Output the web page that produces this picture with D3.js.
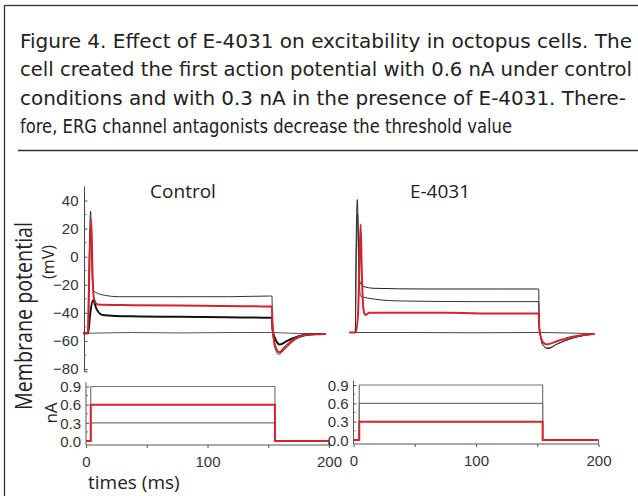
<!DOCTYPE html>
<html>
<head>
<meta charset="utf-8">
<script src="https://cdn.jsdelivr.net/npm/d3@7"></script>
<style>
  body { margin: 0; background: #fff; }
  svg { display: block; font-family: 'Open Sans', sans-serif; }
  .tick text { fill: #333; }
</style>
</head>
<body>
<div id="chart"></div>
<script>
const W = 638, H = 496
const red = '#d3242b'

const captionLines = [
  'Figure 4. Effect of E-4031 on excitability in octopus cells. The',
  'cell created the first action potential with 0.6 nA under control',
  'conditions and with 0.3 nA in the presence of E-4031. There-',
  'fore, ERG channel antagonists decrease the threshold value'
]
const captionWidths = [612, 612, 606, 492]

const panelTitles = ['Control', 'E-4031']

// voltage traces, [time ms, mV]
const ctrlRest = [[0, -54.5], [4, -54.5], [40, -54], [80, -54.3], [120, -54], [155.5, -54], [170, -54.5], [200, -55]]
const ctrl09 = [[0, -54.5], [3.8, -54.5], [4.6, -20], [6.3, 32.5], [7.2, -5], [8.5, -24], [15, -27], [30, -28.5], [80, -28.5], [120, -28.5], [155.5, -28], [156, -50], [158, -65], [161, -69.5], [166, -66], [175, -59], [185, -56], [200, -55]]
const ctrl06 = [[0, -54.5], [4.2, -54.5], [5.2, -10], [6.8, 26.5], [7.8, -10], [9, -30], [12, -34], [40, -34.5], [100, -35], [155.5, -35.5], [156, -50], [158, -63], [161.5, -68], [166, -64.5], [175, -58], [185, -55.5], [200, -55]]
const ctrl03 = [[0, -54.5], [4.2, -54.5], [6, -40], [8.3, -31], [11, -37], [16, -41.5], [40, -42.5], [100, -43], [155.5, -43.5], [156, -52], [159, -60], [162, -62.5], [168, -60], [178, -56.5], [190, -55], [200, -55]]

const e4Rest = [[0, -54], [5, -54], [50, -54], [100, -54.2], [154.4, -54], [175, -54.3], [200, -54.8]]
const e409 = [[0, -54], [4.7, -54], [5.3, 0], [6.4, 40.7], [7.4, 0], [8.5, -18], [11, -21], [20, -22.5], [60, -23], [120, -23], [154.4, -23], [155, -50], [158, -63], [162, -65.5], [170, -62], [182, -58], [200, -55]]
const e406 = [[0, -54], [4.7, -54], [5.5, 0], [6.7, 30], [7.7, -10], [9, -28], [15, -29.5], [40, -31.5], [100, -32], [154.4, -32], [155, -50], [158, -63], [162, -65], [170, -62], [182, -58], [200, -55]]
const e403 = [[0, -54], [5, -54], [7, -40], [8.2, 0], [9.1, 23], [10, -10], [11.5, -38], [13, -41.5], [16, -40], [30, -40], [80, -40], [120, -40.5], [154.4, -40.5], [155, -52], [158, -61], [161, -62.5], [170, -60], [182, -57], [200, -55]]

// current steps
const ctrlLevels = [0.3, 0.6, 0.9], ctrlRed = 0.6
const e4Levels = [0.3, 0.6, 0.9], e4Red = 0.3
const stepOn = [3.9, 4.7], stepOff = [155.5, 154.4]

const mvTicks = [40, 20, 0, -20, -40, -60, -80]
const nATicks = [0, 0.3, 0.6, 0.9]
const timeTicks = [0, 50, 100, 150, 200]
const timeLabels = [0, 100, 200]

const svg = d3.select('#chart').append('svg')
  .attr('width', W).attr('height', H)

// frame
svg.append('rect')
  .attr('x', 4.5).attr('y', 5.5).attr('width', 700).attr('height', 600)
  .attr('fill', 'none').attr('stroke', '#333').attr('stroke-width', 1.3)
svg.append('line')
  .attr('x1', 18).attr('x2', W).attr('y1', 150.5).attr('y2', 150.5)
  .attr('stroke', '#333').attr('stroke-width', 1.3)

svg.selectAll('text.caption')
  .data(captionLines)
  .enter()
  .append('text')
  .classed('caption', true)
  .attr('x', 20)
  .attr('y', (d, i) => 48 + i * 28.3)
  .attr('font-family', "'DejaVu Sans Condensed', 'Liberation Sans Narrow', 'Open Sans', sans-serif")
  .attr('font-size', 20)
  .attr('fill', '#222')
  .attr('textLength', (d, i) => captionWidths[i])
  .attr('lengthAdjust', 'spacingAndGlyphs')
  .text(d => d)

// scales
const yMv = d3.scaleLinear().domain([0, -80]).range([256.7, 369])
const panels = [
  { top: d3.scaleLinear().domain([0, 200]).range([83, 326]),
    bot: d3.scaleLinear().domain([0, 200]).range([86, 329]),
    yI: d3.scaleLinear().domain([0, 0.9]).range([441, 386.5]),
    traces: [ctrlRest, ctrl09, ctrl03, ctrl06], levels: ctrlLevels, redLevel: ctrlRed, titleX: 183 },
  { top: d3.scaleLinear().domain([0, 200]).range([349.5, 594.5]),
    bot: d3.scaleLinear().domain([0, 200]).range([353.5, 598.5]),
    yI: d3.scaleLinear().domain([0, 0.9]).range([440, 385]),
    traces: [e4Rest, e409, e406, e403], levels: e4Levels, redLevel: e4Red, titleX: 440 }
]
const traceStyle = [
  { stroke: '#555', width: 1 },
  { stroke: '#333', width: 1 },
  { stroke: '#111', width: 2 },
  { stroke: red, width: 2 }
]
traceStyle.e4 = [
  { stroke: '#444', width: 1 },
  { stroke: '#222', width: 1 },
  { stroke: '#333', width: 1 },
  { stroke: red, width: 2 }
]

// voltage axis (control only)
const mvAxis = d3.axisLeft(yMv).tickValues(mvTicks).tickSizeInner(-3).tickSizeOuter(-3).tickPadding(6)
const gMv = svg.append('g')
  .attr('transform', 'translate(84.5,0)')
  .call(mvAxis)
gMv.selectAll('.tick line').attr('stroke', '#555')
gMv.selectAll('.tick text').attr('font-size', 15)
gMv.selectAll('.minor')
  .data(d3.range(-70, 50, 20))
  .enter()
  .append('line')
  .attr('x1', 0).attr('x2', 2)
  .attr('y1', d => yMv(d)).attr('y2', d => yMv(d))
  .attr('stroke', '#777')
gMv.select('.domain').attr('stroke', '#444').attr('d', `M0,${yMv(50)}V${yMv(-82)}H3`)

panels.forEach((p, pi) => {
  svg.append('text')
    .attr('x', p.titleX).attr('y', 198)
    .attr('text-anchor', 'middle')
    .attr('font-size', 19)
    .attr('fill', '#222')
    .text(panelTitles[pi])

  const line = d3.line()
    .x(d => p.top(d[0]))
    .y(d => yMv(d[1]))
    .curve(d3.curveMonotoneX)
  const styles = pi === 0 ? traceStyle : traceStyle.e4
  svg.append('g').selectAll('path')
    .data(p.traces)
    .enter()
    .append('path')
    .attr('d', line)
    .attr('fill', 'none')
    .attr('stroke', (d, i) => styles[i].stroke)
    .attr('stroke-width', (d, i) => styles[i].width)
    .attr('stroke-linejoin', 'round')

  // current panel
  const x = p.bot, y = p.yI
  const g = svg.append('g')
  const xAxis = d3.axisBottom(x).tickValues(timeTicks).tickSize(3).tickSizeOuter(0)
    .tickFormat(d => timeLabels.includes(d) ? d : '')
  const gx = g.append('g')
    .attr('transform', `translate(0,${y(0) + 4})`)
    .call(xAxis)
  gx.select('.domain').attr('stroke', '#555').attr('d', `M${x(0)},0H${x(200)}V-3`)
  gx.selectAll('.tick line').attr('stroke', '#555')
  gx.selectAll('.tick text').attr('font-size', 15).attr('dy', '1.05em')

  const yAxis = d3.axisLeft(y).tickValues(nATicks).tickSizeInner(-3).tickSizeOuter(0).tickPadding(5)
    .tickFormat(d3.format('.1f'))
  const gy = g.append('g')
    .attr('transform', `translate(${x(0)},0)`)
    .call(yAxis)
  gy.select('.domain').attr('stroke', '#555').attr('d', `M0,${y(0.97)}V${y(0) + 4}`)
  gy.selectAll('.tick line').attr('stroke', '#555')
  gy.selectAll('.tick text').attr('font-size', 15).attr('dy', '0.35em')
  gy.selectAll('.minor')
    .data([0.15, 0.45, 0.75])
    .enter()
    .append('line')
    .attr('x1', 0).attr('x2', 2)
    .attr('y1', d => y(d)).attr('y2', d => y(d))
    .attr('stroke', '#777')

  const stepPath = lvl => `M${x(0)},${y(0)}H${x(stepOn[pi])}V${y(lvl)}H${x(stepOff[pi])}V${y(0)}H${x(200)}`
  g.selectAll('path.step')
    .data(p.levels.filter(l => l !== p.redLevel))
    .enter()
    .append('path')
    .classed('step', true)
    .attr('d', stepPath)
    .attr('fill', 'none')
    .attr('stroke', '#777')
    .attr('stroke-width', 1.2)
  g.append('path')
    .attr('d', stepPath(p.redLevel))
    .attr('fill', 'none')
    .attr('stroke', red)
    .attr('stroke-width', 2)
})

// axis titles
svg.append('text')
  .attr('transform', 'translate(32,316) rotate(-90)')
  .attr('text-anchor', 'middle')
  .attr('font-size', 23)
  .attr('fill', '#222')
  .attr('textLength', 188)
  .attr('lengthAdjust', 'spacingAndGlyphs')
  .text('Membrane potential')
svg.append('text')
  .attr('transform', 'translate(54,262) rotate(-90)')
  .attr('text-anchor', 'middle')
  .attr('font-size', 16)
  .attr('fill', '#222')
  .text('(mV)')
svg.append('text')
  .attr('transform', 'translate(57,413) rotate(-90)')
  .attr('text-anchor', 'middle')
  .attr('font-size', 17)
  .attr('fill', '#222')
  .text('nA')
svg.append('text')
  .attr('x', 88).attr('y', 489)
  .attr('font-size', 19)
  .attr('fill', '#222')
  .text('times (ms)')
</script>
</body>
</html>
